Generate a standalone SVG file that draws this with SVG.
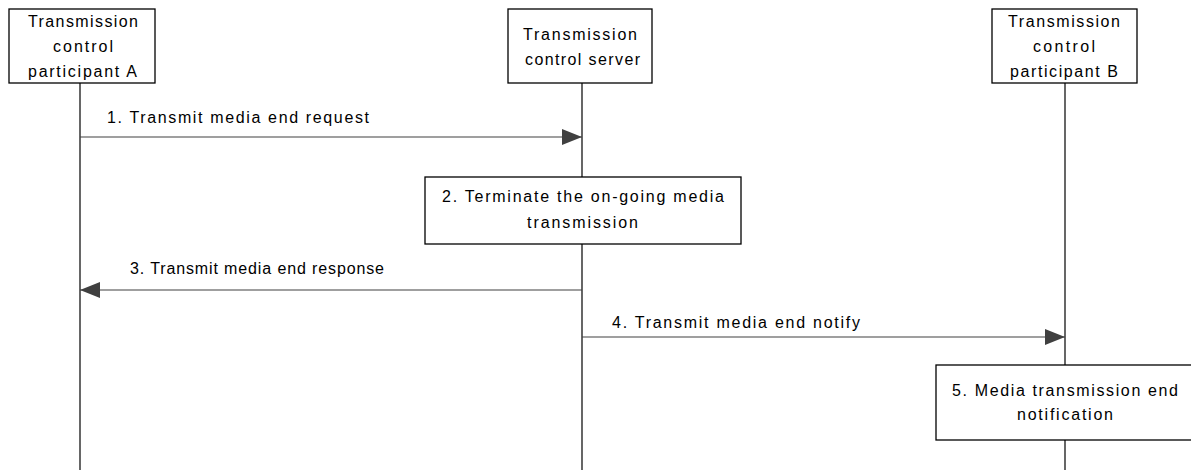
<svg xmlns="http://www.w3.org/2000/svg" width="1191" height="470" viewBox="0 0 1191 470">
<style>
.box{fill:#fff;stroke:#000;stroke-width:1.3}
.life{stroke:#000;stroke-width:1.2;fill:none}
.msg{stroke:#404040;stroke-width:1.2;fill:none}
text{font-family:"Liberation Sans",Arial,sans-serif;font-size:16px;fill:#000}
.c{text-anchor:middle}
</style>
<defs>
<marker id="ah" markerWidth="20" markerHeight="16" refX="20" refY="8" orient="auto" markerUnits="userSpaceOnUse">
<path d="M0,0 L20,8 L0,16 Z" fill="#404040"/>
</marker>
</defs>
<g id="lifelines">
<line class="life" x1="80" y1="83" x2="80" y2="470"/>
<line class="life" x1="582" y1="83" x2="582" y2="177"/>
<line class="life" x1="582" y1="244" x2="582" y2="470"/>
<line class="life" x1="1065" y1="83" x2="1065" y2="365"/>
<line class="life" x1="1065" y1="440" x2="1065" y2="470"/>
</g>
<g id="participantA">
<rect class="box" x="9" y="9" width="146" height="74"/>
<text x="28" y="27" textLength="110" lengthAdjust="spacing">Transmission</text>
<text x="53" y="52" textLength="60" lengthAdjust="spacing">control</text>
<text x="28" y="77" textLength="109" lengthAdjust="spacing">participant A</text>
</g>
<g id="server">
<rect class="box" x="508" y="9" width="144" height="74"/>
<text x="523" y="40" textLength="114" lengthAdjust="spacing">Transmission</text>
<text x="525" y="65" textLength="115" lengthAdjust="spacing">control server</text>
</g>
<g id="participantB">
<rect class="box" x="992" y="9" width="145" height="74"/>
<text x="1008" y="27" textLength="112" lengthAdjust="spacing">Transmission</text>
<text x="1033" y="52" textLength="62" lengthAdjust="spacing">control</text>
<text x="1010" y="77" textLength="108" lengthAdjust="spacing">participant B</text>
</g>
<g id="step2">
<rect class="box" x="425" y="177" width="316" height="67"/>
<text x="442" y="202" textLength="282" lengthAdjust="spacing">2. Terminate the on-going media</text>
<text x="527" y="228" textLength="111" lengthAdjust="spacing">transmission</text>
</g>
<g id="step5">
<rect class="box" x="936" y="365" width="258" height="75"/>
<text x="952" y="396" textLength="226" lengthAdjust="spacing">5. Media transmission end</text>
<text x="1017" y="420" textLength="96" lengthAdjust="spacing">notification</text>
</g>
<g id="connectors">
<line class="msg" x1="80" y1="137" x2="582" y2="137" marker-end="url(#ah)"/>
<text x="107" y="123" textLength="262" lengthAdjust="spacing">1. Transmit media end request</text>
<line class="msg" x1="582" y1="290" x2="80" y2="290" marker-end="url(#ah)"/>
<text x="130" y="274" textLength="254" lengthAdjust="spacing">3. Transmit media end response</text>
<line class="msg" x1="582" y1="337" x2="1065" y2="337" marker-end="url(#ah)"/>
<text x="612" y="328" textLength="248" lengthAdjust="spacing">4. Transmit media end notify</text>
</g>
</svg>
